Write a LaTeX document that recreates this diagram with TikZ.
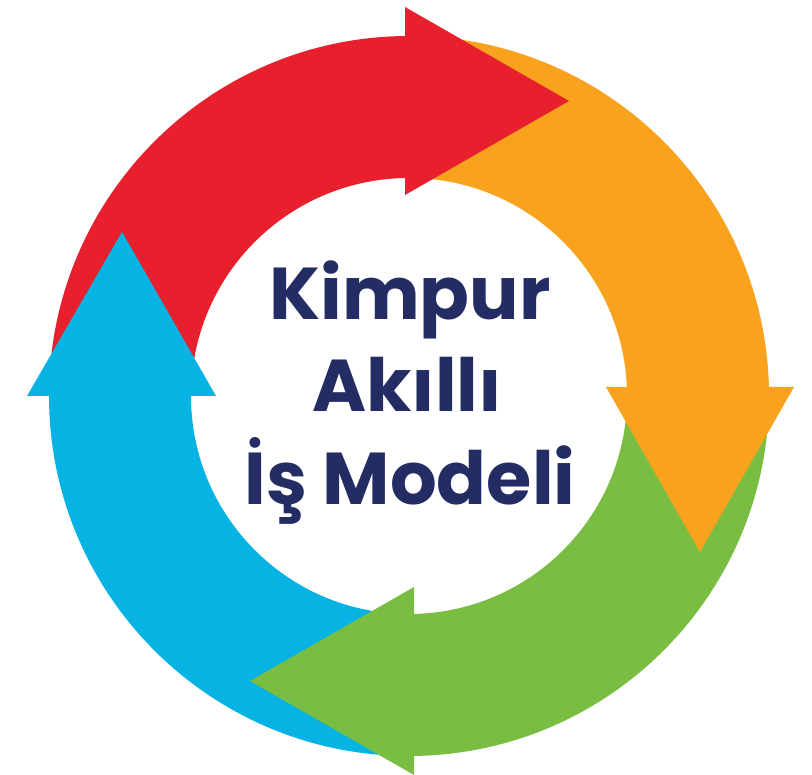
\documentclass[tikz,border=0pt]{standalone}
\usepackage{fontspec}
\newfontfamily\popfont{Poppins}
\definecolor{cred}{HTML}{E8202E}
\definecolor{corange}{HTML}{F8A21D}
\definecolor{cgreen}{HTML}{79BD42}
\definecolor{cblue}{HTML}{06B3E2}
\definecolor{navy}{HTML}{232C63}
\begin{document}
\begin{tikzpicture}[x=1pt,y=1pt,
  lbl/.style={text=navy, font=\popfont\bfseries\fontsize{73.4}{80}\selectfont, inner sep=0pt, anchor=base}]
\useasboundingbox (0,0) rectangle (812,775);
\coordinate (c) at (409,379);
% shafts (annular sectors)
\fill[cred] ([shift={(180:360)}]c) arc[start angle=180, end angle=90, radius=360]
  -- ([shift={(90:218)}]c) arc[start angle=90, end angle=180, radius=218] -- cycle;
\fill[corange] ([shift={(90:360)}]c) arc[start angle=90, end angle=0, radius=360]
  -- ([shift={(0:218)}]c) arc[start angle=0, end angle=90, radius=218] -- cycle;
\fill[cgreen] ([shift={(0:360)}]c) arc[start angle=0, end angle=-90, radius=360]
  -- ([shift={(-90:218)}]c) arc[start angle=-90, end angle=0, radius=218] -- cycle;
\fill[cblue] ([shift={(270:360)}]c) arc[start angle=270, end angle=180, radius=360]
  -- ([shift={(180:218)}]c) arc[start angle=180, end angle=270, radius=218] -- cycle;
% heads
\fill[cred] (405,768) -- (569,674) -- (405,580) -- cycle;
\fill[corange] (606,388) -- (794,388) -- (700,223) -- cycle;
\fill[cgreen] (414,188) -- (250,94) -- (414,0) -- cycle;
\fill[cblue] (27,379) -- (122,543) -- (216,379) -- cycle;
% text
\node[lbl] (t1) at (410,455) {Kimpur};
\node[lbl] (t2) at (407,363) {Akıllı};
\node[lbl] (t3) at (410,270) {İş Modeli};
\end{tikzpicture}
\end{document}
